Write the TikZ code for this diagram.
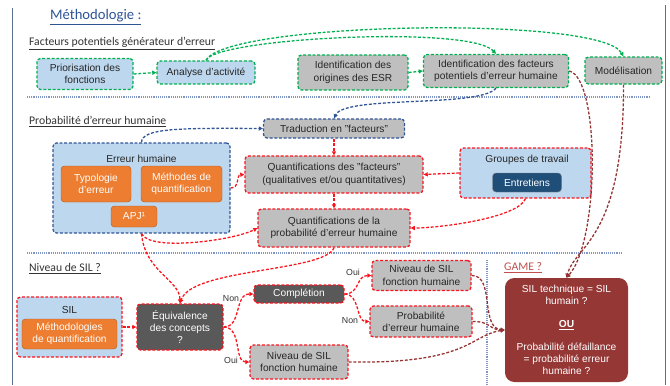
\documentclass[tikz,border=0pt]{standalone}
\usepackage{fontspec}
\setmainfont{Liberation Sans}
\newfontfamily\headfont{Carlito}
\usetikzlibrary{arrows.meta}
\definecolor{grn}{RGB}{0,176,80}
\definecolor{bleu}{RGB}{47,85,151}
\definecolor{rouge}{RGB}{250,20,30}
\definecolor{brique}{RGB}{150,50,50}
\definecolor{ciel}{RGB}{189,215,238}
\definecolor{gris}{RGB}{191,191,191}
\definecolor{grisfonce}{RGB}{89,89,89}
\definecolor{orange}{RGB}{237,125,49}
\definecolor{marine}{RGB}{31,78,121}
\definecolor{bordeaux}{RGB}{149,55,53}
\definecolor{titre}{RGB}{46,84,150}
\definecolor{gametitre}{RGB}{192,80,77}
\definecolor{sepc}{RGB}{130,150,195}
\definecolor{cadre}{RGB}{90,110,145}
\newcommand\boxfont{\fontsize{8.7}{10.5}\selectfont}
\begin{document}
\begin{tikzpicture}[x=0.3mm,y=-0.3mm,
        box/.style={rounded corners=3pt,align=center,inner sep=1pt,line width=1.1pt,dash pattern=on 2.5pt off 1.5pt,font=\boxfont,text=black!85},
        gbox/.style={box,draw=grn,fill=gris},
        bbox/.style={box,draw=bleu,fill=gris},
        rbox/.style={box,draw=rouge,fill=gris},
        obox/.style={rounded corners=3pt,align=center,inner sep=1pt,draw=orange!75!black,line width=0.4pt,fill=orange,text=white,font=\boxfont},
        hsty/.style={anchor=west,font=\headfont\fontsize{10}{12}\selectfont,text=black!80},
        lsty/.style={font=\fontsize{7.5}{9}\selectfont,text=black!80},
        arr/.style={line width=1.1pt,dash pattern=on 2.5pt off 1.5pt,-{Triangle[length=3.5pt,width=3.5pt]}},
        garrow/.style={arr,draw=grn},
        barrow/.style={arr,draw=bleu},
        rarrow/.style={arr,draw=rouge},
        darrow/.style={arr,draw=brique},
        sep/.style={draw=sepc,line width=1pt,dash pattern=on 0.8pt off 0.8pt},
        ]
    \useasboundingbox (0,0) rectangle (670,385);
    \draw[cadre,line width=0.8pt] (12,8) -- (12,385);
    \draw[cadre,line width=0.8pt] (665,5) -- (665,385);

    % titres
    \node (meth) at (46,17) [anchor=west,font=\headfont\fontsize{12.5}{14}\selectfont,text=titre] {\underline{Méthodologie :}};
    \node (hfact) at (25,44) [hsty] {\underline{Facteurs potentiels générateur d’erreur}};
    \node (hprob) at (25,122) [hsty] {\underline{Probabilité d’erreur humaine}};
    \node (hsil) at (25,269) [hsty] {\underline{Niveau de SIL ?}};
    \node (hgame) at (500,268) [hsty,text=gametitre] {\underline{GAME ?}};

    \draw[sep] (27,97) -- (650,97);
    \draw[sep] (27,253) -- (622,253);
    \draw[sep] (487,260) -- (487,385);

    % facteurs
    \node (prio) at (85,74) [gbox,fill=ciel,minimum width=28.8mm,minimum height=9.3mm] {Priorisation des\\fonctions};
    \node (analyse) at (206,72.5) [gbox,fill=ciel,minimum width=29.4mm,minimum height=6.9mm] {Analyse d’activité};
    \node (origesr) at (353,72.5) [gbox,minimum width=33mm,minimum height=10.5mm] {Identification des\\origines des ESR};
    \node (idfact) at (496,71) [gbox,minimum width=43.5mm,minimum height=9.9mm] {Identification des facteurs\\potentiels d’erreur humaine};
    \node (model) at (623.5,70.5) [gbox,minimum width=23.1mm,minimum height=8.1mm] {Modélisation};

    % probabilite
    \node (trad) at (334,128.5) [bbox,minimum width=42.3mm,minimum height=5.7mm] {Traduction en "facteurs"};
    \node (erreur) at (141.5,188) [bbox,fill=ciel,minimum width=53.1mm,minimum height=27mm] {};
    \node (erreurt) at (141.5,159) [font=\boxfont,text=black!85] {Erreur humaine};
    \node (typo) at (96,184) [obox,minimum width=21mm,minimum height=10.8mm] {Typologie\\d’erreur};
    \node (methq) at (181.5,184) [obox,minimum width=24.3mm,minimum height=10.8mm] {Méthodes de\\quantification};
    \node (apj) at (134,216.5) [obox,minimum width=13.8mm,minimum height=6.3mm] {APJ¹};
    \node (quantfact) at (334,174.5) [rbox,minimum width=53.4mm,minimum height=11.1mm] {Quantifications des "facteurs"\\(qualitatives et/ou quantitatives)};
    \node (groupes) at (525.5,173) [rbox,fill=ciel,minimum width=39.3mm,minimum height=15mm] {};
    \node (groupest) at (527,160) [font=\boxfont,text=black!85] {Groupes de travail};
    \node (entretiens) at (527,182.5) [obox,fill=marine,draw=gray,minimum width=20.7mm,minimum height=5.7mm] {Entretiens};
    \node (quantprob) at (334,228) [rbox,minimum width=45.6mm,minimum height=11.4mm] {Quantifications de la\\probabilité d’erreur humaine};

    % niveau de SIL
    \node (sil) at (69.5,327) [rbox,fill=ciel,minimum width=31.5mm,minimum height=18mm] {};
    \node (silt) at (69.5,310) [font=\boxfont,text=black!85] {SIL};
    \node (silmeth) at (69.5,334) [obox,minimum width=28.5mm,minimum height=9mm] {Méthodologies\\de quantification};
    \node (equiv) at (180,327) [rbox,fill=grisfonce,text=white,minimum width=25.8mm,minimum height=13.8mm] {Équivalence\\des concepts\\?};
    \node (completion) at (299,294) [rbox,fill=grisfonce,text=white,minimum width=27mm,minimum height=5.4mm] {Complétion};
    \node (niv1) at (421.5,275.5) [rbox,minimum width=29.7mm,minimum height=9mm] {Niveau de SIL\\fonction humaine};
    \node (prob) at (421,321.5) [rbox,minimum width=30.6mm,minimum height=9.3mm] {Probabilité\\d’erreur humaine};
    \node (niv2) at (299,362) [rbox,minimum width=29.4mm,minimum height=10.2mm] {Niveau de SIL\\fonction humaine};
    \node (game) at (566.5,330) [rounded corners=8pt,fill=bordeaux,text=white,align=center,font=\boxfont,minimum width=36.9mm,minimum height=31.2mm] {SIL technique = SIL\\humain ?\\[9pt]\textbf{\underline{OU}}\\[9pt]Probabilité défaillance\\= probabilité erreur\\humaine ?};

    \node (lnon1) at (231,299) [lsty] {Non};
    \node (loui1) at (231,360) [lsty] {Oui};
    \node (loui2) at (353,272) [lsty] {Oui};
    \node (lnon2) at (350,321) [lsty] {Non};

    % fleches vertes
    \draw[garrow] (prio.east) -- (analyse.west);
    \draw[garrow] (origesr.east) -- (idfact.west);
    \draw[garrow] (analyse.north) .. controls (215,38) and (470,25) .. (idfact.north);
    \draw[garrow] (analyse.north) .. controls (225,22) and (600,15) .. (model.north);

    % fleches bleues
    \draw[barrow] (idfact.south) .. controls (480,108) and (345,95) .. (trad.north);
    \draw[barrow] (erreur.north) .. controls (142,128) and (180,128) .. (trad.west);

    % fleches rouges
    \draw[rarrow] (trad) -- (quantfact);
    \draw[rarrow] (erreur.east) .. controls (240,188) and (236,175) .. (quantfact.west);
    \draw[rarrow] (groupes.west) -- (quantfact.east);
    \draw[rarrow] (quantfact) -- (quantprob);
    \draw[rarrow] (groupes.south) .. controls (518,218) and (440,228) .. (quantprob.east);
    \draw[rarrow] (erreur.south) .. controls (150,252) and (235,240) .. (quantprob.west);
    \draw[rarrow] (erreur.south) .. controls (145,272) and (180,280) .. (equiv.north);
    \draw[rarrow] (quantprob.south) .. controls (325,272) and (192,268) .. (equiv.north);
    \draw[rarrow] (sil) -- (equiv);
    \draw[rarrow] (equiv.east) .. controls (242,327) and (234,294) .. (completion.west);
    \draw[rarrow] (equiv.east) .. controls (242,327) and (234,362) .. (niv2.west);
    \draw[rarrow] (completion.east) .. controls (360,294) and (356,275.5) .. (niv1.west);
    \draw[rarrow] (completion.east) .. controls (360,294) and (356,321.5) .. (prob.west);

    % vers GAME
    \draw[darrow] (niv1.east) .. controls (495,275) and (480,328) .. (game.west);
    \draw[darrow] (prob.east) .. controls (490,321) and (490,330) .. (game.west);
    \draw[darrow] (niv2.east) .. controls (470,364) and (470,335) .. (game.west);
    \draw[darrow] (idfact.east) .. controls (600,78) and (600,240) .. (game.north);
    \draw[darrow] (model.south) .. controls (624,240) and (575,245) .. (game.north);

\end{tikzpicture}
\end{document}
